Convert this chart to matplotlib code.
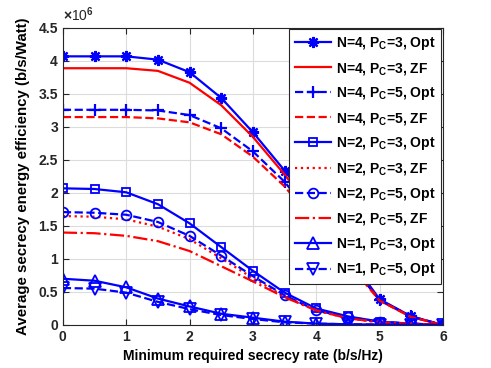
import matplotlib as mpl
mpl.use('Agg')
import numpy as np
import matplotlib.pyplot as plt

plt.rcParams['font.family'] = ['Liberation Sans', 'DejaVu Sans']
plt.rcParams['font.weight'] = 'bold'
plt.rcParams['mathtext.fontset'] = 'custom'
plt.rcParams['mathtext.rm'] = 'Liberation Sans:bold'
plt.rcParams['mathtext.bf'] = 'Liberation Sans:bold'
plt.rcParams['mathtext.it'] = 'Liberation Sans:bold'

# minimum required secrecy rate (b/s/Hz)
rate = [0, 0.5, 1, 1.5, 2, 2.5, 3, 3.5, 4, 4.5, 5, 5.5, 6]

# average secrecy energy efficiency, x 1e6 b/s/Watt
n4_p3_opt = [4.07, 4.07, 4.07, 4.02, 3.83, 3.44, 2.92, 2.34, 1.70, 1.05, 0.39, 0.13, 0.0]
n4_p3_zf  = [3.89, 3.89, 3.89, 3.85, 3.67, 3.33, 2.85, 2.28, 1.65, 1.00, 0.37, 0.12, 0.0]
n4_p5_opt = [3.26, 3.26, 3.26, 3.25, 3.18, 2.98, 2.63, 2.17, 1.57, 0.97, 0.38, 0.13, 0.0]
n4_p5_zf  = [3.15, 3.15, 3.15, 3.13, 3.07, 2.89, 2.55, 2.10, 1.52, 0.94, 0.37, 0.12, 0.0]
n2_p3_opt = [2.07, 2.06, 2.01, 1.83, 1.54, 1.18, 0.82, 0.49, 0.25, 0.13, 0.05, 0.02, 0.0]
n2_p3_zf  = [1.65, 1.64, 1.60, 1.49, 1.30, 1.01, 0.71, 0.43, 0.22, 0.10, 0.04, 0.02, 0.0]
n2_p5_opt = [1.71, 1.70, 1.67, 1.56, 1.35, 1.05, 0.74, 0.45, 0.22, 0.12, 0.05, 0.02, 0.0]
n2_p5_zf  = [1.40, 1.39, 1.35, 1.27, 1.12, 0.89, 0.66, 0.42, 0.22, 0.10, 0.04, 0.02, 0.0]
n1_p3_opt = [0.70, 0.67, 0.57, 0.40, 0.28, 0.17, 0.11, 0.05, 0.02, 0.01, 0.005, 0.0, 0.0]
n1_p5_opt = [0.56, 0.55, 0.49, 0.35, 0.24, 0.15, 0.09, 0.04, 0.02, 0.01, 0.005, 0.0, 0.0]

labels = ['N=4, P$_C$=3, Opt', 'N=4, P$_C$=3, ZF', 'N=4, P$_C$=5, Opt', 'N=4, P$_C$=5, ZF',
          'N=2, P$_C$=3, Opt', 'N=2, P$_C$=3, ZF', 'N=2, P$_C$=5, Opt', 'N=2, P$_C$=5, ZF',
          'N=1, P$_C$=3, Opt', 'N=1, P$_C$=5, Opt']

fig = plt.figure(figsize=(4.91, 3.68), dpi=100)
ax = fig.add_axes([0.128, 0.117, 0.774, 0.807])

lw = 1.6
ax.plot(rate, n4_p3_opt, color='b', ls='-', lw=lw, marker=(8, 2, 0), ms=8, mew=1.6, label=labels[0])
ax.plot(rate, n4_p3_zf, color='r', ls='-', lw=lw, label=labels[1])
ax.plot(rate, n4_p5_opt, color='b', ls='--', lw=lw, marker='+', ms=9, mew=1.6, label=labels[2])
ax.plot(rate, n4_p5_zf, color='r', ls='--', lw=lw, label=labels[3])
ax.plot(rate, n2_p3_opt, color='b', ls='-', lw=lw, marker='s', ms=6, mfc='none', mew=1.3, label=labels[4])
ax.plot(rate, n2_p3_zf, color='r', ls=':', lw=lw, label=labels[5])
ax.plot(rate, n2_p5_opt, color='b', ls='--', lw=lw, marker='o', ms=7, mfc='none', mew=1.3, label=labels[6])
ax.plot(rate, n2_p5_zf, color='r', ls='-.', lw=lw, label=labels[7])
ax.plot(rate, n1_p3_opt, color='b', ls='-', lw=lw, marker='^', ms=8, mfc='none', mew=1.3, label=labels[8])
ax.plot(rate, n1_p5_opt, color='b', ls='--', lw=lw, marker='v', ms=8, mfc='none', mew=1.3, label=labels[9])

ax.set_xlim(0, 6)
ax.set_ylim(0, 4.5)
ax.set_xticks(np.arange(0, 7, 1))
ax.set_yticks(np.arange(0, 4.51, 0.5))
ax.set_yticklabels(['0', '0.5', '1', '1.5', '2', '2.5', '3', '3.5', '4', '4.5'])
ax.grid(True, color='#dcdcdc', lw=0.8)
ax.set_axisbelow(True)
ax.tick_params(direction='in', length=4, labelsize=10, top=True, right=True, colors='#262626')
for s in ax.spines.values():
    s.set_color('#262626')

ax.text(0.0, 1.012, r'$\times$10$^6$', transform=ax.transAxes, fontsize=10, color='#262626',
        fontweight='normal', ha='left', va='bottom')

ax.set_xlabel('Minimum required secrecy rate (b/s/Hz)', fontsize=10, fontweight='bold')
ax.set_ylabel('Average secrecy energy efficiency (b/s/Watt)', fontsize=10.8, fontweight='bold',
              labelpad=6)

leg = ax.legend(loc='upper right', fontsize=10, handlelength=2.6, labelspacing=0.62,
                fancybox=False, framealpha=1, edgecolor='#262626', borderaxespad=0.1,
                handletextpad=0.4, borderpad=0.4)
leg.get_frame().set_linewidth(0.8)

fig.savefig('out.png', dpi=100)
